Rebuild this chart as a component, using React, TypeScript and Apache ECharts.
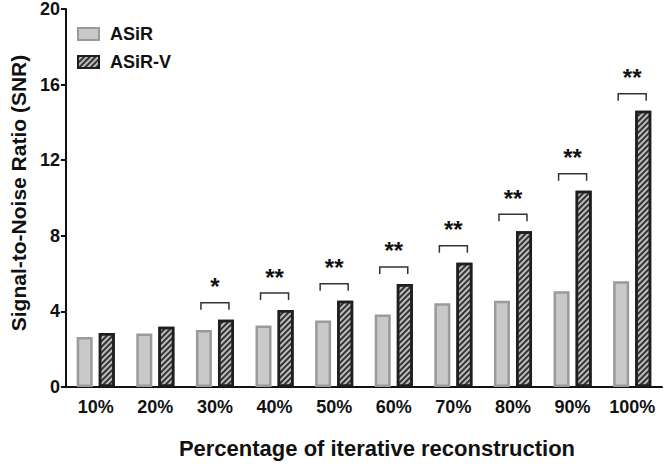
import React, { useEffect, useRef } from "react";
import * as echarts from "echarts";

const categories = ["10%", "20%", "30%", "40%", "50%", "60%", "70%", "80%", "90%", "100%"];
const asir = [2.65, 2.83, 3.02, 3.26, 3.52, 3.84, 4.43, 4.57, 5.06, 5.6];
const asirV = [2.86, 3.19, 3.56, 4.07, 4.57, 5.45, 6.58, 8.24, 10.38, 14.62];
const significance = ["", "", "*", "**", "**", "**", "**", "**", "**", "**"];
const yTicks = { min: 0, max: 20, interval: 4 };

const FONT = "'Liberation Sans', Arial, Helvetica, sans-serif";

export default function App() {
  const ref = useRef<HTMLDivElement>(null);
  useEffect(() => {
    if (!ref.current) return;
    const chart = echarts.init(ref.current, undefined, { renderer: "svg" });
    const sigData = categories
      .map((c, i) => [i, asirV[i], significance[i]])
      .filter((d) => d[2] !== "");
    chart.setOption({
      animation: false,
      backgroundColor: "#fff",
      grid: { left: 54, right: 7, top: 8, bottom: 74, containLabel: false },
      legend: {
        data: ["ASiR", "ASiR-V"],
        orient: "vertical",
        left: 77,
        top: 25,
        padding: 0,
        itemWidth: 21,
        itemHeight: 12,
        itemGap: 10,
        icon: "rect",
        textStyle: {
          fontFamily: FONT,
          fontWeight: "bold",
          fontSize: 18,
          lineHeight: 14,
          color: "#111",
          padding: [0, 0, 0, 6],
        },
      },
      xAxis: {
        type: "category",
        data: categories,
        name: "Percentage of iterative reconstruction",
        nameLocation: "middle",
        nameGap: 50,
        nameTextStyle: {
          fontFamily: FONT,
          fontWeight: "bold",
          fontSize: 22,
          color: "#111",
          padding: [0, 0, 0, 26],
        },
        axisLine: { lineStyle: { color: "#111", width: 2 } },
        axisTick: { alignWithLabel: true, interval: 0, length: 5, lineStyle: { color: "#111", width: 2 } },
        axisLabel: { interval: 0, fontFamily: FONT, fontWeight: "bold", fontSize: 18, color: "#111", margin: 11 },
      },
      yAxis: {
        type: "value",
        min: yTicks.min,
        max: yTicks.max,
        interval: yTicks.interval,
        name: "Signal-to-Noise Ratio (SNR)",
        nameLocation: "middle",
        nameGap: 34,
        nameTextStyle: {
          fontFamily: FONT,
          fontWeight: "bold",
          fontSize: 21,
          color: "#111",
          padding: [0, 0, 0, 10],
        },
        axisLine: { show: true, lineStyle: { color: "#111", width: 2 } },
        axisTick: { show: true, length: 5, lineStyle: { color: "#111", width: 2 } },
        axisLabel: { fontFamily: FONT, fontWeight: "bold", fontSize: 18, color: "#111", margin: 6 },
        splitLine: { show: false },
      },
      series: [
        {
          name: "ASiR",
          type: "bar",
          data: asir,
          barWidth: 16,
          barGap: "38%",
          itemStyle: { color: "#c9c9c9", borderColor: "#9a9a9a", borderWidth: 2.5 },
        },
        {
          name: "ASiR-V",
          type: "bar",
          data: asirV,
          barWidth: 16,
          itemStyle: {
            color: "#bdbdbd",
            borderColor: "#1e1e1e",
            borderWidth: 2.5,
            decal: {
              symbol: "rect",
              color: "#333333",
              dashArrayX: [1, 0],
              dashArrayY: [1.6, 2],
              rotation: -Math.PI / 4,
              symbolSize: 1,
            },
          },
        },
        {
          type: "custom",
          name: "sig",
          data: sigData,
          z: 10,
          renderItem: (params: any, api: any) => {
            const p = api.coord([api.value(0), api.value(1)]);
            const cx = p[0];
            const top = p[1] - 17;
            const label = sigData[params.dataIndex][2] as string;
            return {
              type: "group",
              children: [
                {
                  type: "polyline",
                  shape: {
                    points: [
                      [cx - 14, top + 7],
                      [cx - 14, top],
                      [cx + 14, top],
                      [cx + 14, top + 7],
                    ],
                  },
                  style: { stroke: "#333", lineWidth: 1.5, fill: null },
                },
                {
                  type: "text",
                  x: cx,
                  y: top - 4,
                  style: {
                    text: label,
                    fontFamily: FONT,
                    fontWeight: "bold",
                    fontSize: 24,
                    fill: "#111",
                    align: "center",
                    verticalAlign: "bottom",
                  },
                },
              ],
            };
          },
        },
      ],
    });
    return () => chart.dispose();
  }, []);
  return <div ref={ref} style={{ width: 669, height: 464, position: "absolute", left: 0, top: 0 }} />;
}
